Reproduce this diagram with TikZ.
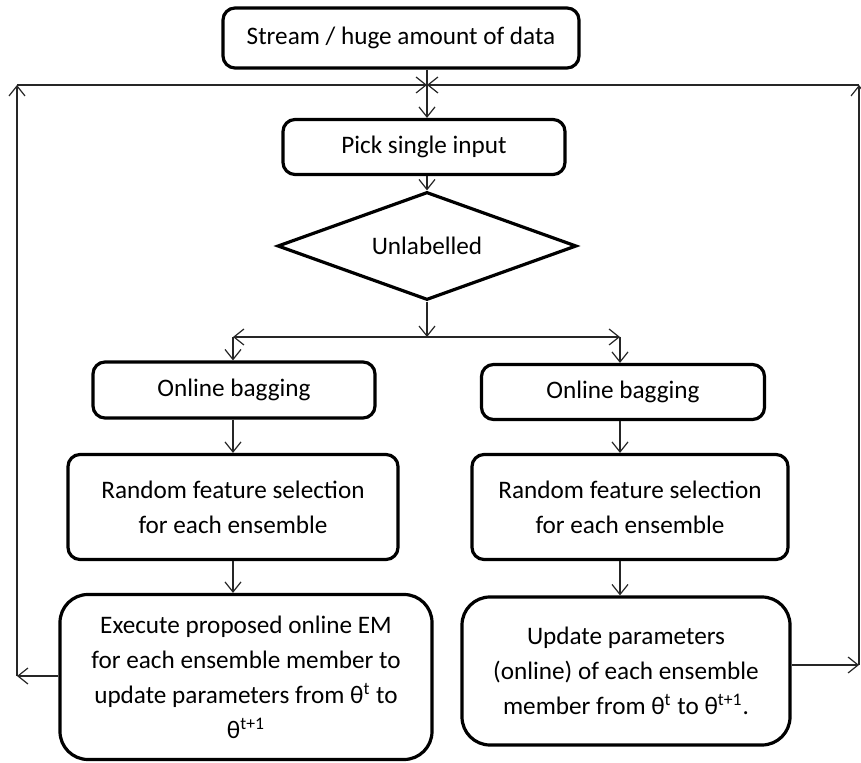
\documentclass[tikz,border=0pt]{standalone}
\usepackage{fontspec}
\setmainfont{Carlito}
\usetikzlibrary{arrows.meta, shapes.geometric, calc}

\begin{document}
\begin{tikzpicture}[
    x=0.5pt, y=-0.5pt,
    box/.style={rectangle, draw=black, line width=1.6pt, rounded corners=6pt, align=center, inner sep=0pt, font=\fontsize{12.6}{17.5}\selectfont},
    bigbox/.style={box, rounded corners=14pt},
    decision/.style={diamond, aspect=3, draw=black, line width=1.6pt, inner sep=0pt, font=\fontsize{12.6}{17.5}\selectfont},
    arrow/.style={-{Straight Barb[length=5pt, width=8pt]}, line width=0.6pt, black!85},
    link/.style={line width=0.6pt, black!85},
]
\useasboundingbox (0,0) rectangle (861,763);

% Main column
\node[box, minimum width=178pt, minimum height=30pt] (stream) at (401,38) {Stream / huge amount of data};
\node[box, minimum width=141pt, minimum height=27.5pt] (pick) at (424,147) {Pick single input};
\node[decision, minimum width=149.5pt, minimum height=54pt] (unl) at (427,246) {Unlabelled};

% Left branch
\node[box, minimum width=141pt, minimum height=28pt] (bagL) at (234,390) {Online bagging};
\node[box, minimum width=165pt, minimum height=52.5pt] (rndL) at (233,507) {Random feature selection\\for each ensemble};
\node[bigbox, minimum width=186pt, minimum height=82.5pt] (exe) at (246,677) {Execute proposed online EM\\for each ensemble member to\\update parameters from θ\textsuperscript{t} to\\θ\textsuperscript{t+1}};

% Right branch
\node[box, minimum width=141.5pt, minimum height=27.5pt] (bagR) at (623,392) {Online bagging};
\node[box, minimum width=158pt, minimum height=52.5pt] (rndR) at (630,507) {Random feature selection\\for each ensemble};
\node[bigbox, minimum width=164pt, minimum height=74pt] (upd) at (626,671) {Update parameters\\(online) of each ensemble\\member from θ\textsuperscript{t} to θ\textsuperscript{t+1}.};

% Junction points
\coordinate (junc) at (427,85);
\coordinate (split) at (427,337);
\coordinate (splitL) at (233,337);
\coordinate (splitR) at (620,337);
\coordinate (loopL) at (17,676);
\coordinate (topL) at (17,85);
\coordinate (loopR) at (859,665);
\coordinate (topR) at (859,85);

% Arrows - main flow
\draw[link] (stream.south -| junc) -- (junc);
\draw[arrow] (junc) -- (junc |- pick.north);
\draw[arrow] (pick.south -| junc) -- (junc |- unl.north);
\draw[arrow] (unl.south) -- (split);
\draw[arrow] (split) -- (splitL);
\draw[arrow] (split) -- (splitR);
\draw[arrow] (splitL) -- (splitL |- bagL.north);
\draw[arrow] (splitR) -- (splitR |- bagR.north);

% Arrows - branches
\draw[arrow] (splitL |- bagL.south) -- (splitL |- rndL.north);
\draw[arrow] (splitL |- rndL.south) -- (splitL |- exe.north);
\draw[arrow] (splitR |- bagR.south) -- (splitR |- rndR.north);
\draw[arrow] (splitR |- rndR.south) -- (splitR |- upd.north);

% Feedback loops
\draw[arrow] (exe.west |- loopL) -- (loopL);
\draw[arrow] (loopL) -- (topL);
\draw[arrow] (topL) -- (junc);
\draw[arrow] (upd.east |- loopR) -- (loopR);
\draw[arrow] (loopR) -- (topR);
\draw[arrow] (topR) -- (junc);

\end{tikzpicture}
\end{document}
